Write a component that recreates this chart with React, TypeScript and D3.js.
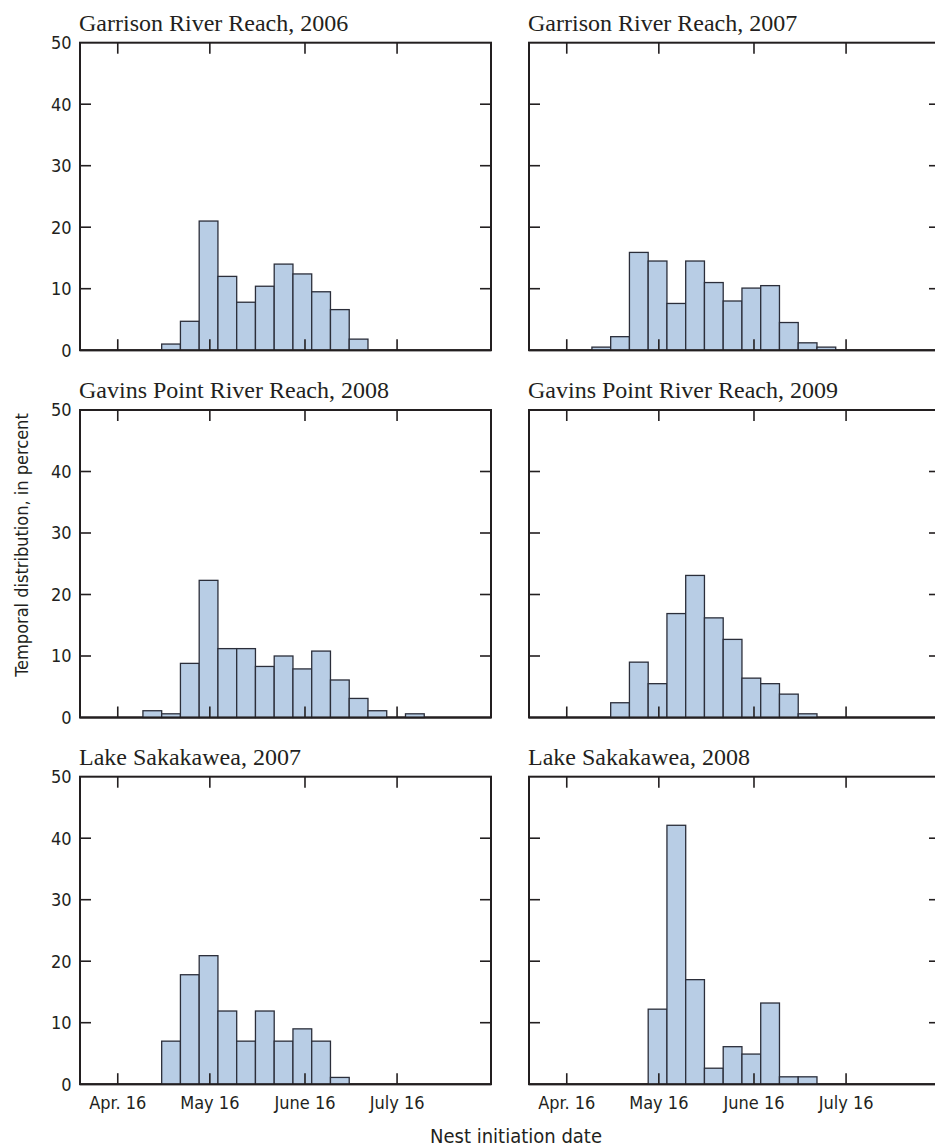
import React from "react";
import * as d3 from "d3";

// Percent of nests initiated in each bin, 15 consecutive bins starting late April
const garrison2006 = [0, 1.0, 4.7, 21.0, 12.0, 7.8, 10.4, 14.0, 12.4, 9.5, 6.6, 1.8, 0, 0, 0];
const garrison2007 = [0.5, 2.2, 15.9, 14.5, 7.6, 14.5, 11.0, 8.0, 10.1, 10.5, 4.5, 1.2, 0.5, 0, 0];
const gavins2008 = [1.1, 0.6, 8.8, 22.3, 11.2, 11.2, 8.3, 10.0, 7.9, 10.8, 6.1, 3.1, 1.1, 0, 0.6];
const gavins2009 = [0, 2.4, 9.0, 5.5, 16.9, 23.1, 16.2, 12.7, 6.4, 5.5, 3.8, 0.6, 0, 0, 0];
const sakakawea2007 = [0, 7.0, 17.8, 20.9, 11.9, 7.0, 11.9, 7.0, 9.0, 7.0, 1.1, 0, 0, 0];
const sakakawea2008 = [0, 0, 0, 12.2, 42.1, 17.0, 2.6, 6.1, 4.9, 13.2, 1.2, 1.2, 0, 0, 0];

const panelTitles = [
  "Garrison River Reach, 2006",
  "Garrison River Reach, 2007",
  "Gavins Point River Reach, 2008",
  "Gavins Point River Reach, 2009",
  "Lake Sakakawea, 2007",
  "Lake Sakakawea, 2008",
];
const panelSeries = [garrison2006, garrison2007, gavins2008, gavins2009, sakakawea2007, sakakawea2008];

// Date axis, in days after April 16
const tickDays = [0, 30, 61, 91];
const tickLabels = ["Apr. 16", "May 16", "June 16", "July 16"];
const yTicks = [0, 10, 20, 30, 40, 50];
const firstBinDay = 8.2;
const binDays = 6.11;

const W = 935;
const H = 1147;
const PW = 411;
const PH = 307.5;
const colX = [80, 529];
const rowY = [42.7, 410, 776.7];

const SANS = "'DejaVu Sans Condensed', 'Liberation Sans Narrow', 'Arial Narrow', sans-serif";
const SERIF = "'Liberation Serif', 'Times New Roman', serif";
const INK = "#231f20";
const BAR_FILL = "#b8cde5";
const BAR_STROKE = "#2b2e3a";

const x = d3.scaleLinear().domain([-12.3, 121.6]).range([0, PW]);
const y = d3.scaleLinear().domain([0, 50]).range([PH, 0]);

function Panel({ title, values, col, row }: { title: string; values: number[]; col: number; row: number }) {
  const tx = colX[col];
  const ty = rowY[row];
  const tickLen = 11;
  return (
    <g transform={`translate(${tx},${ty})`}>
      <text x={-1} y={-12} fontFamily={SERIF} fontSize={24} fill={INK}>
        {title}
      </text>
      <rect x={0} y={0} width={PW} height={PH} fill="none" stroke={INK} strokeWidth={2} />
      {values.map((v, i) => {
        const x0 = x(firstBinDay + i * binDays);
        const x1 = x(firstBinDay + (i + 1) * binDays);
        return (
          <rect
            key={i}
            x={x0}
            y={y(v)}
            width={x1 - x0}
            height={y(0) - y(v)}
            fill={BAR_FILL}
            stroke={BAR_STROKE}
            strokeWidth={1.3}
          />
        );
      })}
      {/* inward ticks on all four sides */}
      {tickDays.map((d) => (
        <g key={"xt" + d}>
          <line x1={x(d)} x2={x(d)} y1={0} y2={tickLen} stroke={INK} strokeWidth={1.6} />
          <line x1={x(d)} x2={x(d)} y1={PH} y2={PH - tickLen} stroke={INK} strokeWidth={1.6} />
        </g>
      ))}
      {yTicks.slice(1, -1).map((t) => (
        <g key={"yt" + t}>
          <line x1={0} x2={tickLen} y1={y(t)} y2={y(t)} stroke={INK} strokeWidth={1.6} />
          <line x1={PW} x2={PW - tickLen} y1={y(t)} y2={y(t)} stroke={INK} strokeWidth={1.6} />
        </g>
      ))}
      <line x1={0} x2={PW} y1={PH} y2={PH} stroke={INK} strokeWidth={2} />
      {col === 0 &&
        yTicks.map((t) => (
          <text
            key={"yl" + t}
            x={-8.5}
            y={y(t)}
            dy="0.36em"
            textAnchor="end"
            fontFamily={SANS}
            fontSize={18}
            fill={INK}
          >
            {t}
          </text>
        ))}
      {row === 2 &&
        tickDays.map((d, i) => (
          <text
            key={"xl" + d}
            x={x(d)}
            y={PH + 25}
            textAnchor="middle"
            fontFamily={SANS}
            fontSize={18}
            fill={INK}
          >
            {tickLabels[i]}
          </text>
        ))}
    </g>
  );
}

export default function App() {
  return (
    <svg
      width={W}
      height={H}
      viewBox={`0 0 ${W} ${H}`}
      style={{ position: "absolute", left: 0, top: 0, background: "#fff" }}
    >
      <rect width={W} height={H} fill="#fff" />
      {panelSeries.map((vals, i) => (
        <Panel key={i} title={panelTitles[i]} values={vals} col={i % 2} row={Math.floor(i / 2)} />
      ))}
      <text
        transform="translate(28,545) rotate(-90)"
        textAnchor="middle"
        fontFamily={SANS}
        fontSize={18}
        fill={INK}
      >
        Temporal distribution, in percent
      </text>
      <text x={516} y={1143} textAnchor="middle" fontFamily={SANS} fontSize={20} fill={INK}>
        Nest initiation date
      </text>
    </svg>
  );
}
